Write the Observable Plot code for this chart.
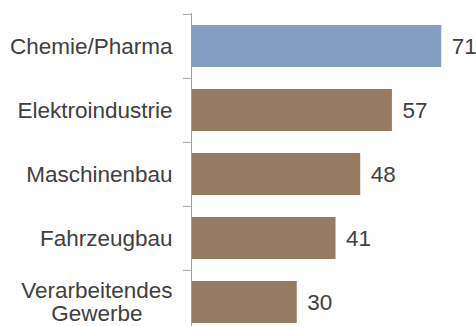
<!DOCTYPE html>
<html><head><meta charset="utf-8">
<script src="https://cdn.jsdelivr.net/npm/d3@7"></script>
<script src="https://cdn.jsdelivr.net/npm/@observablehq/plot@0.6"></script>
<style>body{margin:0;background:#fff}</style>
</head><body><div id="chart"></div>
<script>
const categories = ["Chemie/Pharma", "Elektroindustrie", "Maschinenbau", "Fahrzeugbau", "Verarbeitendes\nGewerbe"];
const values = [71, 57, 48, 41, 30];
const groups = ["highlight", "other", "other", "other", "other"];
const data = categories.map((c, i) => ({category: c, value: values[i], group: groups[i]}));

const chart = Plot.plot({
  width: 476, height: 326,
  marginLeft: 191, marginRight: 3, marginTop: 13, marginBottom: 0,
  style: {fontFamily: "'Liberation Sans', Arial, sans-serif", fontSize: "22.5px", color: "#404040", background: "#fff"},
  x: {domain: [0, 80], axis: null},
  y: {domain: categories, range: [13, 334.2], paddingInner: 0.345, paddingOuter: 0.1725, label: null, axis: null},
  color: {domain: ["highlight", "other"], range: ["#829fc1", "#977a62"]},
  marks: [
    Plot.barX(data, {y: "category", x: "value", fill: "group"}),
    Plot.text(data, {y: "category", x: "value", text: d => String(d.value), textAnchor: "start", dx: 10, fill: "#404040", fontSize: 22.5}),
    Plot.axisY({tickSize: 0, tickPadding: 19, fontSize: 22.5, fill: "#404040", lineHeight: 1.0, label: null}),
    Plot.axisY({tickSize: 8, text: null, dy: -32.1, stroke: "#a0a0a0", label: null}),
    Plot.ruleX([0], {stroke: "#a0a0a0"})
  ]
});
document.getElementById("chart").append(chart);

// center multi-line category labels (lines centered on each other, block right-aligned)
d3.select(chart).selectAll("text").each(function() {
  const tspans = this.querySelectorAll("tspan");
  if (tspans.length > 1 && this.getAttribute("text-anchor") !== "start") {
    const w = this.getBBox().width;
    this.setAttribute("text-anchor", "middle");
    tspans.forEach(t => t.setAttribute("x", -w / 2));
  }
});
</script>
</body></html>
